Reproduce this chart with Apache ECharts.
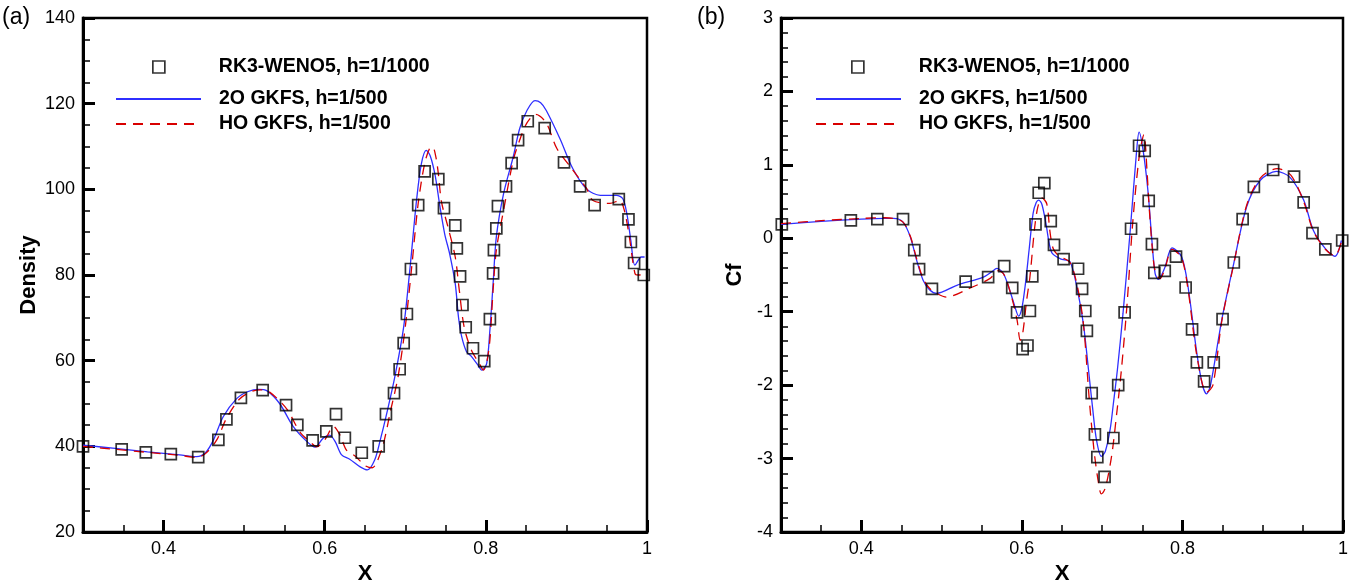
<!DOCTYPE html>
<html><head><meta charset="utf-8">
<script src="https://cdn.jsdelivr.net/npm/echarts@6/dist/echarts.min.js"></script>
<style>html,body{margin:0;padding:0;background:#fff}#c{width:1355px;height:580px}</style>
</head><body><div id="c"></div>
<script>
// ---------- DATA ----------
const seriesNames = ['RK3-WENO5, h=1/1000', '2O GKFS, h=1/500', 'HO GKFS, h=1/500'];
const xTickLabels = [0.4, 0.6, 0.8, 1];
const xMinorTicks = [0.35, 0.4, 0.45, 0.5, 0.55, 0.6, 0.65, 0.7, 0.75, 0.8, 0.85, 0.9, 0.95];

// (a) Density
const densityRef = [[0.300,40.0],[0.348,39.3],[0.378,38.6],[0.409,38.2],[0.443,37.5],[0.468,41.5],[0.478,46.3],[0.496,51.3],[0.523,53.1],[0.552,49.6],[0.566,45.0],[0.585,41.4],[0.602,43.5],[0.614,47.5],[0.625,42.0],[0.646,38.5],[0.667,40.0],[0.676,47.5],[0.686,52.4],[0.693,58.0],[0.698,64.1],[0.702,70.9],[0.707,81.4],[0.716,96.3],[0.724,104.2],[0.741,102.4],[0.748,95.6],[0.762,91.6],[0.764,86.2],[0.768,79.7],[0.771,73.0],[0.775,67.8],[0.784,62.9],[0.798,59.9],[0.805,69.7],[0.809,80.4],[0.810,85.8],[0.813,90.9],[0.815,96.1],[0.825,100.7],[0.832,106.1],[0.840,111.5],[0.852,115.9],[0.873,114.3],[0.897,106.3],[0.917,100.7],[0.935,96.3],[0.965,97.7],[0.977,93.0],[0.980,87.7],[0.984,82.8],[0.996,80.0]];
const density2O = [[0.300,40.3],[0.340,39.5],[0.380,38.7],[0.420,38.0],[0.441,37.6],[0.452,38.5],[0.462,41.5],[0.474,46.9],[0.491,51.2],[0.505,52.8],[0.518,53.3],[0.528,53.0],[0.544,50.0],[0.561,44.6],[0.578,41.1],[0.588,39.8],[0.598,41.9],[0.606,42.6],[0.613,41.1],[0.621,38.0],[0.631,37.0],[0.644,35.2],[0.653,34.5],[0.662,36.8],[0.669,41.5],[0.677,47.7],[0.687,56.2],[0.698,67.9],[0.706,81.9],[0.714,97.5],[0.720,106.0],[0.726,109.1],[0.731,107.8],[0.737,103.3],[0.743,96.0],[0.749,89.5],[0.755,85.0],[0.762,78.0],[0.766,70.2],[0.770,65.6],[0.776,62.1],[0.782,61.0],[0.790,59.0],[0.795,57.8],[0.801,59.3],[0.805,67.1],[0.809,78.0],[0.813,88.9],[0.822,99.0],[0.834,107.6],[0.842,114.2],[0.851,118.4],[0.861,120.7],[0.868,120.2],[0.875,118.4],[0.892,111.8],[0.908,104.8],[0.925,100.1],[0.942,98.6],[0.962,98.6],[0.970,97.8],[0.975,94.3],[0.980,88.0],[0.985,82.3],[0.993,84.2],[0.997,84.2]];
const densityHO = [[0.300,40.0],[0.340,39.3],[0.380,38.6],[0.420,37.9],[0.441,37.4],[0.452,38.3],[0.466,41.5],[0.478,46.5],[0.494,51.0],[0.508,52.7],[0.520,53.2],[0.532,52.6],[0.553,48.7],[0.569,43.4],[0.582,41.0],[0.590,39.9],[0.600,41.5],[0.611,44.6],[0.619,42.6],[0.627,39.1],[0.638,37.7],[0.650,35.5],[0.659,35.0],[0.664,36.0],[0.673,40.7],[0.681,47.7],[0.691,56.2],[0.700,67.9],[0.708,81.9],[0.716,96.7],[0.724,106.0],[0.730,109.5],[0.734,109.9],[0.738,107.5],[0.741,103.7],[0.745,97.0],[0.753,91.2],[0.762,84.2],[0.767,76.5],[0.773,67.9],[0.782,62.5],[0.792,59.3],[0.797,57.8],[0.801,59.5],[0.805,64.8],[0.809,76.5],[0.813,85.8],[0.822,95.1],[0.834,106.8],[0.842,111.5],[0.851,115.5],[0.862,117.5],[0.875,115.5],[0.888,109.6],[0.908,104.5],[0.925,100.2],[0.933,97.4],[0.954,96.7],[0.966,97.4],[0.972,95.0],[0.978,89.0],[0.985,80.4],[0.989,80.0],[0.997,80.2]];

// (b) Cf
const cfRef = [[0.301,0.19],[0.387,0.245],[0.420,0.26],[0.452,0.26],[0.466,-0.16],[0.472,-0.42],[0.488,-0.69],[0.530,-0.59],[0.558,-0.53],[0.578,-0.38],[0.588,-0.675],[0.594,-1.01],[0.601,-1.51],[0.607,-1.46],[0.610,-0.99],[0.613,-0.52],[0.617,0.19],[0.621,0.62],[0.628,0.75],[0.636,0.235],[0.640,-0.09],[0.652,-0.285],[0.670,-0.415],[0.675,-0.69],[0.679,-0.99],[0.681,-1.26],[0.687,-2.11],[0.691,-2.67],[0.694,-2.98],[0.703,-3.25],[0.714,-2.72],[0.720,-2.0],[0.728,-1.01],[0.736,0.13],[0.746,1.26],[0.753,1.19],[0.758,0.51],[0.762,-0.08],[0.765,-0.47],[0.778,-0.445],[0.792,-0.25],[0.804,-0.67],[0.812,-1.24],[0.818,-1.69],[0.827,-1.95],[0.839,-1.69],[0.850,-1.10],[0.864,-0.33],[0.875,0.26],[0.889,0.70],[0.913,0.93],[0.939,0.84],[0.951,0.49],[0.962,0.07],[0.978,-0.15],[0.999,-0.03]];
const cf2O = [[0.300,0.19],[0.350,0.23],[0.400,0.26],[0.430,0.27],[0.440,0.27],[0.452,0.22],[0.461,0.02],[0.469,-0.30],[0.477,-0.57],[0.485,-0.70],[0.494,-0.75],[0.519,-0.64],[0.552,-0.53],[0.562,-0.46],[0.569,-0.41],[0.577,-0.48],[0.585,-0.71],[0.591,-0.92],[0.596,-1.06],[0.600,-0.95],[0.604,-0.66],[0.609,-0.16],[0.614,0.34],[0.618,0.49],[0.621,0.52],[0.625,0.46],[0.630,0.20],[0.637,-0.19],[0.648,-0.28],[0.660,-0.32],[0.670,-0.75],[0.677,-1.20],[0.683,-1.79],[0.688,-2.30],[0.693,-2.75],[0.699,-2.97],[0.704,-2.90],[0.710,-2.60],[0.714,-2.25],[0.719,-1.79],[0.726,-1.02],[0.735,0.11],[0.743,1.20],[0.746,1.445],[0.751,1.20],[0.757,0.65],[0.762,-0.03],[0.766,-0.48],[0.770,-0.56],[0.778,-0.40],[0.787,-0.13],[0.799,-0.25],[0.807,-0.66],[0.818,-1.57],[0.825,-2.00],[0.830,-2.12],[0.835,-2.00],[0.849,-1.11],[0.863,-0.39],[0.880,0.43],[0.897,0.79],[0.917,0.91],[0.934,0.83],[0.951,0.52],[0.963,0.11],[0.978,-0.14],[0.990,-0.245],[0.998,-0.03]];
const cfHO = [[0.300,0.20],[0.350,0.24],[0.400,0.27],[0.430,0.28],[0.440,0.27],[0.452,0.22],[0.461,0.03],[0.469,-0.28],[0.477,-0.55],[0.485,-0.68],[0.494,-0.75],[0.506,-0.80],[0.535,-0.68],[0.560,-0.55],[0.571,-0.44],[0.578,-0.50],[0.586,-0.75],[0.594,-1.11],[0.598,-1.39],[0.601,-1.30],[0.606,-0.84],[0.610,-0.53],[0.616,0.15],[0.620,0.43],[0.625,0.55],[0.631,0.47],[0.635,0.09],[0.639,-0.14],[0.646,-0.24],[0.660,-0.33],[0.670,-0.70],[0.677,-1.20],[0.684,-2.20],[0.690,-2.90],[0.695,-3.30],[0.699,-3.48],[0.704,-3.40],[0.712,-2.95],[0.718,-2.40],[0.724,-1.79],[0.731,-0.90],[0.738,0.20],[0.746,1.10],[0.752,1.41],[0.756,0.90],[0.758,0.52],[0.762,-0.08],[0.766,-0.45],[0.772,-0.55],[0.778,-0.42],[0.787,-0.15],[0.799,-0.27],[0.807,-0.70],[0.818,-1.60],[0.830,-2.10],[0.838,-2.00],[0.849,-1.13],[0.863,-0.40],[0.880,0.45],[0.897,0.82],[0.918,0.95],[0.935,0.86],[0.951,0.50],[0.963,0.10],[0.978,-0.15],[0.990,-0.24],[0.998,-0.05]];

// ---------- CHART ----------
const FONT = 'Liberation Sans, Arial, Helvetica, sans-serif';
const chart = echarts.init(document.getElementById('c'), null, {renderer: 'canvas'});
const grids = [
  {left: 83, top: 18, width: 564, height: 514},
  {left: 781, top: 18, width: 562, height: 514}
].map(g => Object.assign(g, {show: true, borderColor: '#000', borderWidth: 2.5, backgroundColor: 'transparent', containLabel: false, outerBoundsMode: 'none'}));

const nameStyle = {color: '#000', fontSize: 22, fontWeight: 'bold', fontFamily: FONT};
function xAxes(gi) {
  return [{
    gridIndex: gi, type: 'value', min: 0.3, max: 1, interval: 0.05, position: 'bottom',
    axisLine: {show: true, onZero: false, lineStyle: {color: '#000', width: 3}},
    axisTick: {show: true, inside: true, length: 7, customValues: xMinorTicks, lineStyle: {color: '#000', width: 1.5}},
    axisLabel: {customValues: xTickLabels, color: '#000', fontSize: 18, fontFamily: FONT, margin: 8},
    splitLine: {show: false},
    name: 'X', nameLocation: 'middle', nameGap: 25, nameTextStyle: nameStyle
  }, {
    gridIndex: gi, type: 'value', min: 0.3, max: 1, interval: 0.05, position: 'bottom',
    axisLine: {show: false, onZero: false},
    axisTick: {show: true, inside: true, length: 12, customValues: xTickLabels, lineStyle: {color: '#000', width: 3}},
    axisLabel: {show: false}, splitLine: {show: false}
  }];
}
function yAxis(gi, min, max, interval, split, name, gap) {
  return {
    gridIndex: gi, type: 'value', min, max, interval,
    axisLine: {show: true, onZero: false, lineStyle: {color: '#000', width: 3}},
    axisTick: {show: true, inside: true, length: 12, lineStyle: {color: '#000', width: 3}},
    minorTick: {show: true, splitNumber: split, length: 7, lineStyle: {color: '#000', width: 1.5}},
    axisLabel: {color: '#000', fontSize: 18, fontFamily: FONT, margin: 8},
    splitLine: {show: false}, minorSplitLine: {show: false},
    name, nameLocation: 'middle', nameGap: gap, nameTextStyle: nameStyle
  };
}

function seriesFor(gi, ref, s2, sh) {
  const xi = gi * 2;
  return [{
    name: seriesNames[0], type: 'scatter', xAxisIndex: xi, yAxisIndex: gi, data: ref,
    symbol: 'rect', symbolSize: 11, z: 3,
    itemStyle: {color: 'rgba(0,0,0,0)', borderColor: '#000', borderWidth: 1.7}
  }, {
    name: seriesNames[1], type: 'line', xAxisIndex: xi, yAxisIndex: gi, data: s2,
    symbol: 'none', showSymbol: false, smooth: 0.3, z: 2,
    lineStyle: {color: '#2f2fff', width: 1.3}, itemStyle: {color: '#2f2fff'}
  }, {
    name: seriesNames[2], type: 'line', xAxisIndex: xi, yAxisIndex: gi, data: sh,
    symbol: 'none', showSymbol: false, smooth: 0.3, z: 2,
    lineStyle: {color: '#d80000', width: 1.3, type: [10, 7]}, itemStyle: {color: '#d80000'}
  }];
}

const legTxt = {color: '#000', fontSize: 19.5, fontWeight: 'bold', fontFamily: FONT};
const hiddenSym = {opacity: 0, color: 'rgba(0,0,0,0)', borderWidth: 0};
function legends(sqX, lineX, textX) {
  return [{
    data: [{name: seriesNames[0], icon: 'rect', itemStyle: {color: 'rgba(0,0,0,0)', borderColor: '#000', borderWidth: 1.7}}],
    left: sqX - 6, top: 57, padding: 0, itemWidth: 12, itemHeight: 12, itemGap: 0,
    textStyle: Object.assign({padding: [0, 0, 0, textX - sqX - 6 - 5]}, legTxt), selectedMode: false
  }, {
    data: [{name: seriesNames[1], itemStyle: hiddenSym}], left: lineX, top: 89, padding: 0, itemWidth: 85, itemHeight: 14,
    textStyle: Object.assign({padding: [0, 0, 0, textX - lineX - 85 - 5]}, legTxt), selectedMode: false
  }, {
    data: [{name: seriesNames[2], itemStyle: hiddenSym}], left: lineX, top: 114, padding: 0, itemWidth: 85, itemHeight: 14,
    textStyle: Object.assign({padding: [0, 0, 0, textX - lineX - 85 - 5]}, legTxt), selectedMode: false
  }];
}

chart.setOption({
  backgroundColor: '#fff',
  animation: false,
  grid: grids,
  xAxis: [...xAxes(0), ...xAxes(1)],
  yAxis: [yAxis(0, 20, 140, 20, 4, 'Density', 43), yAxis(1, -4, 3, 1, 5, 'Cf', 35)],
  legend: [...legends(158, 115, 218), ...legends(857, 815, 918)],
  series: [...seriesFor(0, densityRef, density2O, densityHO), ...seriesFor(1, cfRef, cf2O, cfHO)],
  graphic: [
    {type: 'text', left: 2, top: 6, style: {text: '(a)', fontSize: 23, fontFamily: FONT, fill: '#000'}},
    {type: 'text', left: 697, top: 6, style: {text: '(b)', fontSize: 23, fontFamily: FONT, fill: '#000'}}
  ]
});
</script></body></html>
